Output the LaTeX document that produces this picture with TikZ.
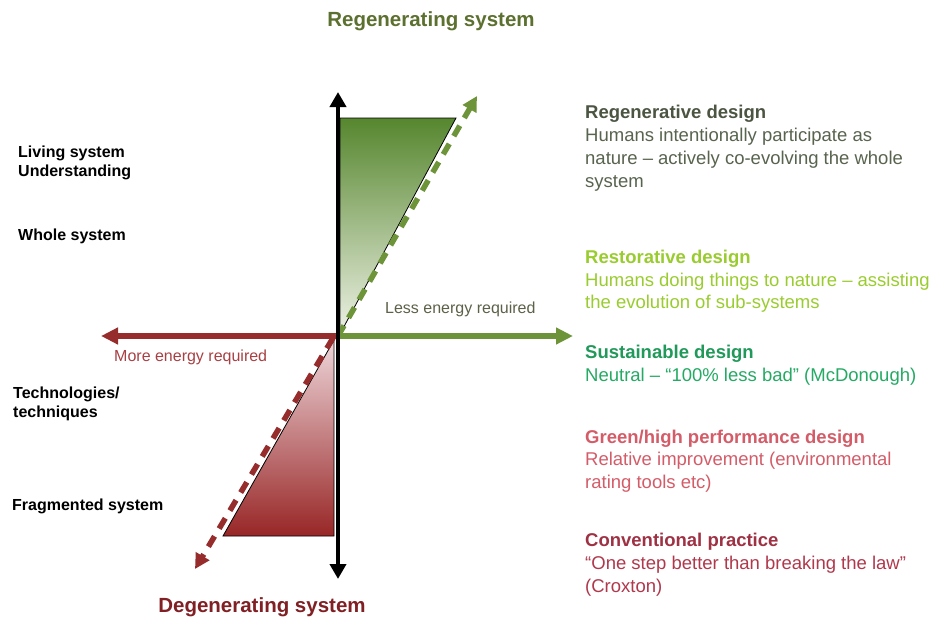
\documentclass[tikz,border=0pt]{standalone}
\usepackage{fontspec}
\setmainfont{Liberation Sans}
\usetikzlibrary{arrows.meta}
\definecolor{regentitle}{RGB}{92,112,48}
\definecolor{degentitle}{RGB}{128,32,36}
\definecolor{axisgreen}{RGB}{110,148,58}
\definecolor{axisred}{RGB}{150,44,44}
\definecolor{trigtop}{RGB}{86,134,46}
\definecolor{trigbot}{RGB}{238,242,230}
\definecolor{trirtop}{RGB}{238,214,218}
\definecolor{trirbot}{RGB}{152,38,38}
\definecolor{regentxt}{RGB}{88,100,78}
\definecolor{restotxt}{RGB}{154,204,48}
\definecolor{sustxt}{RGB}{36,170,100}
\definecolor{greentxt}{RGB}{212,92,104}
\definecolor{convtxt}{RGB}{176,56,76}
\definecolor{lesstxt}{RGB}{92,98,72}
\definecolor{moretxt}{RGB}{168,64,68}
\tikzset{
  lbl/.style={anchor=base west, inner sep=0pt, font=\fontsize{16}{18}\selectfont\bfseries, text=black},
  rhead/.style={anchor=base west, inner sep=0pt, font=\fontsize{18.5}{22}\selectfont\bfseries},
  rbody/.style={anchor=base west, inner sep=0pt, font=\fontsize{18.5}{22}\selectfont},
  ttl/.style={anchor=base, inner sep=0pt, font=\fontsize{20.5}{24}\selectfont\bfseries},
  energy/.style={anchor=base west, inner sep=0pt, font=\fontsize{16}{18}\selectfont},
  axisline/.style={line width=5.5pt, -{Triangle[length=17pt,width=16pt]}},
  dashline/.style={line width=5.5pt, dash pattern=on 12pt off 9pt, -{Triangle[length=15pt,width=15pt]}}
}
\begin{document}
\begin{tikzpicture}[x=1pt,y=-1pt]
\useasboundingbox (0,0) rectangle (935,618);
\fill[white] (0,0) rectangle (935,618);

% key points
\coordinate (O) at (338,336);
\coordinate (Gstart) at (338,336);
\coordinate (Rstart) at (333,338);
\coordinate (Vtop) at (338,92);
\coordinate (Vbot) at (338,579);
\coordinate (Eright) at (573,336);
\coordinate (Eleft) at (101,336);
\coordinate (Gtip) at (477,96);
\coordinate (Rtip) at (195,569);

% triangles
\draw[black, line width=0.8pt, top color=trigtop, bottom color=trigbot]
  (340,118) -- (456,118) -- (340,334) -- cycle;
\draw[black, line width=0.8pt, top color=trirtop, bottom color=trirbot]
  (334,340) -- (334,536) -- (223,536) -- cycle;

% horizontal axis
\draw[axisline, axisred] (O) -- (Eleft);
\draw[axisline, axisgreen] (O) -- (Eright);

% dashed diagonals
\draw[dashline, axisgreen] (Gstart) -- (Gtip);
\draw[dashline, axisred] (Rstart) -- (Rtip);

% vertical axis
\draw[line width=4pt, black, {Triangle[length=15pt,width=16pt]}-{Triangle[length=15pt,width=16pt]}] (Vbot) -- (Vtop);

% titles
\node[ttl, text=regentitle] (regen) at (431,27) {Regenerating system};
\node[ttl, text=degentitle] (degen) at (262,612) {Degenerating system};

% energy labels
\node[energy, text=lesstxt] (less) at (385,313) {Less energy required};
\node[energy, text=moretxt] (more) at (114,361) {More energy required};

% left labels
\node[lbl] (liv1) at (18,157) {Living system};
\node[lbl] (liv2) at (18,176) {Understanding};
\node[lbl] (whole) at (18,240) {Whole system};
\node[lbl] (tech1) at (13,398) {Technologies/};
\node[lbl] (tech2) at (13,417) {techniques};
\node[lbl] (frag) at (12,510) {Fragmented system};

% right texts
\node[rhead, text=regentxt!85!black] (rg0) at (585,118.5) {Regenerative design};
\node[rbody, text=regentxt] (rg1) at (585,141.5) {Humans intentionally participate as};
\node[rbody, text=regentxt] (rg2) at (585,164.5) {nature – actively co-evolving the whole};
\node[rbody, text=regentxt] (rg3) at (585,187) {system};

\node[rhead, text=restotxt] (rs0) at (585,263.5) {Restorative design};
\node[rbody, text=restotxt] (rs1) at (585,286.5) {Humans doing things to nature – assisting};
\node[rbody, text=restotxt] (rs2) at (585,308.5) {the evolution of sub-systems};

\node[rhead, text=sustxt!90!black] (su0) at (585,358.5) {Sustainable design};
\node[rbody, text=sustxt] (su1) at (585,381.5) {Neutral – “100\% less bad” (McDonough)};

\node[rhead, text=greentxt] (gr0) at (585,443.5) {Green/high performance design};
\node[rbody, text=greentxt] (gr1) at (585,465.5) {Relative improvement (environmental};
\node[rbody, text=greentxt] (gr2) at (585,488.5) {rating tools etc)};

\node[rhead, text=convtxt!90!black] (cv0) at (585,546.5) {Conventional practice};
\node[rbody, text=convtxt] (cv1) at (585,569.5) {“One step better than breaking the law”};
\node[rbody, text=convtxt] (cv2) at (585,592) {(Croxton)};
\end{tikzpicture}
\end{document}
